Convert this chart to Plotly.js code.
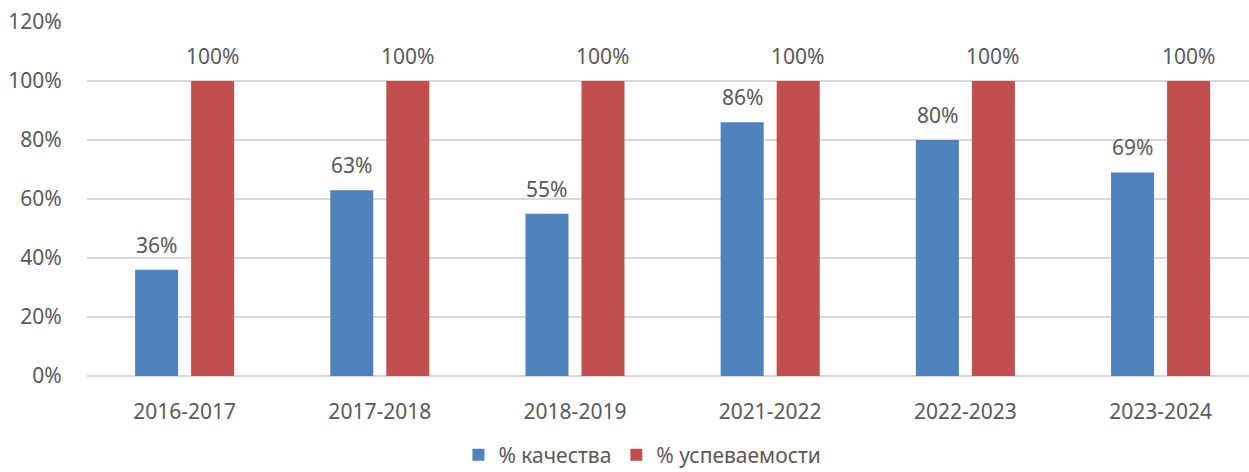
<!DOCTYPE html>
<html>
<head>
<meta charset="utf-8">
<script src="https://cdn.plot.ly/plotly-3.0.1.min.js"></script>
<style>
  html, body { margin: 0; padding: 0; background: #fff; }
  #chart { width: 1249px; height: 472px; }
</style>
</head>
<body>
<div id="chart"></div>
<script>
// School years and the two indicators (in %)
const years = ['2016-2017', '2017-2018', '2018-2019', '2021-2022', '2022-2023', '2023-2024'];
const quality = [36, 63, 55, 86, 80, 69];
const progress = [100, 100, 100, 100, 100, 100];
const seriesNames = ['% качества', '% успеваемости'];
const yTicks = [0, 20, 40, 60, 80, 100, 120];

const BLUE = '#4f81bd';
const RED = '#c0504d';
const TEXT = '#595959';
const FONT = 'Noto Sans, Open Sans, sans-serif';
const FS = 21;

const traces = [
    {
        type: 'bar',
        name: seriesNames[0],
        x: years,
        y: quality,
        marker: { color: BLUE },
        hoverinfo: 'x+y'
    },
    {
        type: 'bar',
        name: seriesNames[1],
        x: years,
        y: progress,
        marker: { color: RED },
        hoverinfo: 'x+y'
    }
];

// value labels sit above each bar, shifted left/right to its slot in the group
const slotShift = 28;
const annotations = [];
[quality, progress].forEach((vals, s) => {
    vals.forEach((v, i) => {
        annotations.push({
            x: years[i],
            y: v,
            xref: 'x',
            yref: 'y',
            text: v + '%',
            showarrow: false,
            xanchor: 'center',
            yanchor: 'bottom',
            xshift: s === 0 ? -slotShift : slotShift,
            yshift: 9,
            font: { family: FONT, size: FS, color: TEXT }
        });
    });
});

const layout = {
    width: 1249,
    height: 472,
    margin: { l: 87, r: 0, t: 22, b: 96 },
    paper_bgcolor: '#ffffff',
    plot_bgcolor: '#ffffff',
    barmode: 'group',
    bargap: 0.426,
    bargroupgap: 0.232,
    font: { family: FONT, size: FS, color: TEXT },
    xaxis: {
        type: 'category',
        range: [-0.5, 5.453],
        showgrid: false,
        zeroline: false,
        showline: false,
        ticks: 'outside',
        ticklen: 17,
        tickcolor: 'rgba(0,0,0,0)',
        tickfont: { family: FONT, size: FS, color: TEXT }
    },
    yaxis: {
        range: [0, 120],
        tickvals: yTicks,
        ticktext: yTicks.map(t => t + '%'),
        showgrid: true,
        gridcolor: '#d9d9d9',
        gridwidth: 1.5,
        zeroline: true,
        zerolinecolor: '#d9d9d9',
        zerolinewidth: 1.5,
        showline: false,
        ticks: 'outside',
        ticklen: 20,
        tickcolor: 'rgba(0,0,0,0)',
        tickfont: { family: FONT, size: FS, color: TEXT }
    },
    showlegend: true,
    legend: {
        orientation: 'h',
        x: 0.478,
        xanchor: 'center',
        yref: 'container',
        y: 0.036,
        yanchor: 'middle',
        font: { family: FONT, size: FS, color: TEXT },
        itemwidth: 30,
        tracegroupgap: 0
    },
    annotations: annotations
};

Plotly.newPlot('chart', traces, layout, { displayModeBar: false, staticPlot: true });
</script>
</body>
</html>
